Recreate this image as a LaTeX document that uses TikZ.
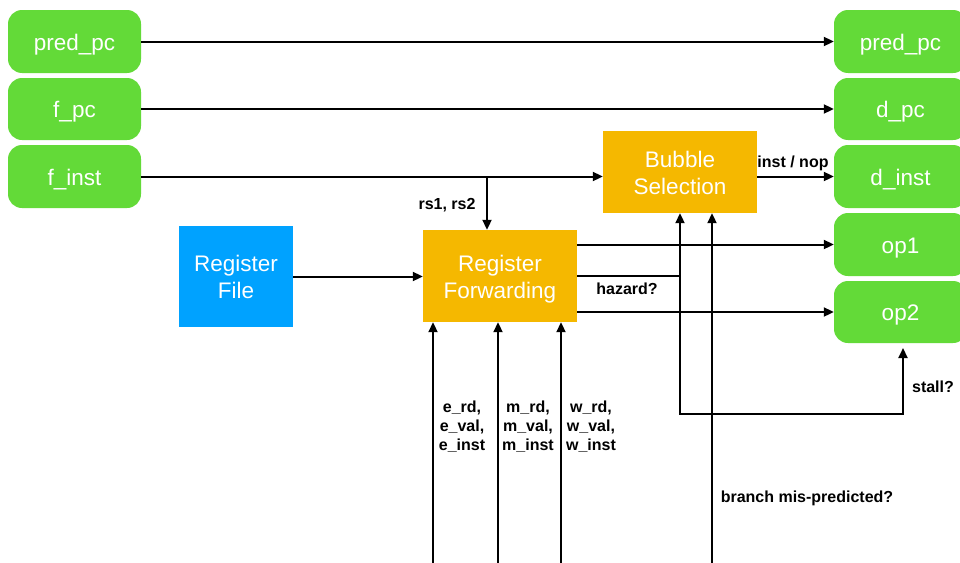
\documentclass[tikz,border=0pt]{standalone}
\usepackage{fontspec}
\setmainfont{Liberation Sans}
\usetikzlibrary{arrows.meta}
\definecolor{regGreen}{RGB}{99,218,56}
\definecolor{unitOrange}{RGB}{245,184,0}
\definecolor{fileBlue}{RGB}{0,162,255}
\begin{document}
\begin{tikzpicture}[x=1pt,y=-1pt,
  pipereg/.style={rectangle, rounded corners=14pt, fill=regGreen, text=white,
    minimum width=133pt, minimum height=63pt, inner sep=0pt,
    text height=17.5pt, text depth=0pt,
    font=\fontsize{22.5}{27}\selectfont},
  % two-line blocks: height spans both lines above the last baseline
  unit/.style={rectangle, fill=unitOrange, text=white, align=center,
    inner sep=0pt, text height=44.5pt, text depth=0pt,
    font=\fontsize{22.5}{27}\selectfont},
  sig/.style={line width=2pt, -{Triangle[length=10pt,width=9pt]}},
  wire/.style={line width=2pt},
  lbl/.style={font=\fontsize{16}{19}\selectfont\bfseries, align=center, inner sep=0pt}]
\useasboundingbox (0,0) rectangle (960,562);
\clip (0,0) rectangle (960,562);

% fetch-stage registers (left)
\node[pipereg] (fpred) at (74.5,41.5) {pred\_pc};
\node[pipereg, minimum height=62pt] (fpc) at (74.5,109) {f\_pc};
\node[pipereg] (finst) at (74.5,176.5) {f\_inst};

% decode-stage registers (right)
\node[pipereg] (dpred) at (900.5,41.5) {pred\_pc};
\node[pipereg, minimum height=62pt] (dpc) at (900.5,109) {d\_pc};
\node[pipereg] (dinst) at (900.5,176.5) {d\_inst};
\node[pipereg] (op1) at (900.5,244.5) {op1};
\node[pipereg, minimum height=62pt] (op2) at (900.5,312) {op2};

% logic blocks
\node[unit, minimum width=154pt, minimum height=82pt] (bubble) at (680,172) {Bubble\\Selection};
\node[unit, minimum width=154pt, minimum height=92pt] (fwd) at (500,276) {Register\\Forwarding};
\node[unit, fill=fileBlue, minimum width=114pt, minimum height=101pt] (rfile) at (236,276.5) {Register\\File};

% straight pass-through
\draw[sig] (fpred.east) -- (dpred.west);
\draw[sig] (fpc.east) -- (dpc.west);
\draw[sig] (finst.east) -- (finst.east -| bubble.west);

% source register ids tapped off f_inst
\coordinate (tap) at (487,177);
\draw[sig] (tap) -- (tap |- fwd.north);
\node[lbl] (rslbl) at (447,205) {rs1, rs2};

\draw[sig] (rfile.east) -- (rfile.east -| fwd.west);

% bubble selection output
\draw[sig] (bubble.east |- dinst.west) -- (dinst.west);
\node[lbl] (instlbl) at (793,163) {inst / nop};

% operands
\draw[sig] (fwd.east |- op1.west) -- (op1.west);
\draw[sig] (fwd.east |- op2.west) -- (op2.west);

% hazard detection and stall
\coordinate (haz) at (680,276);
\coordinate (hazlow) at (680,414);
\coordinate (stallturn) at (903,414);
\coordinate (stallend) at (903,348);
\draw[wire] (fwd.east) -- (haz);
\draw[sig] (haz) -- (haz |- bubble.south);
\draw[sig] (haz) -- (hazlow) -- (stallturn) -- (stallend);
\node[lbl] (hazlbl) at (627,289) {hazard?};
\node[lbl] (stalllbl) at (933,387) {stall?};

% branch misprediction
\coordinate (brin) at (712,565);
\draw[sig] (brin) -- (brin |- bubble.south);
\node[lbl] (brlbl) at (807,498) {branch mis-predicted?};

% forwarding sources from later stages
\coordinate (ein) at (433,565);
\coordinate (min) at (498,565);
\coordinate (win) at (561,565);
\draw[sig] (ein) -- (ein |- fwd.south);
\draw[sig] (min) -- (min |- fwd.south);
\draw[sig] (win) -- (win |- fwd.south);
\node[lbl] (elbl) at (462,427) {e\_rd,\\e\_val,\\e\_inst};
\node[lbl] (mlbl) at (528,427) {m\_rd,\\m\_val,\\m\_inst};
\node[lbl] (wlbl) at (591,427) {w\_rd,\\w\_val,\\w\_inst};
\end{tikzpicture}
\end{document}
